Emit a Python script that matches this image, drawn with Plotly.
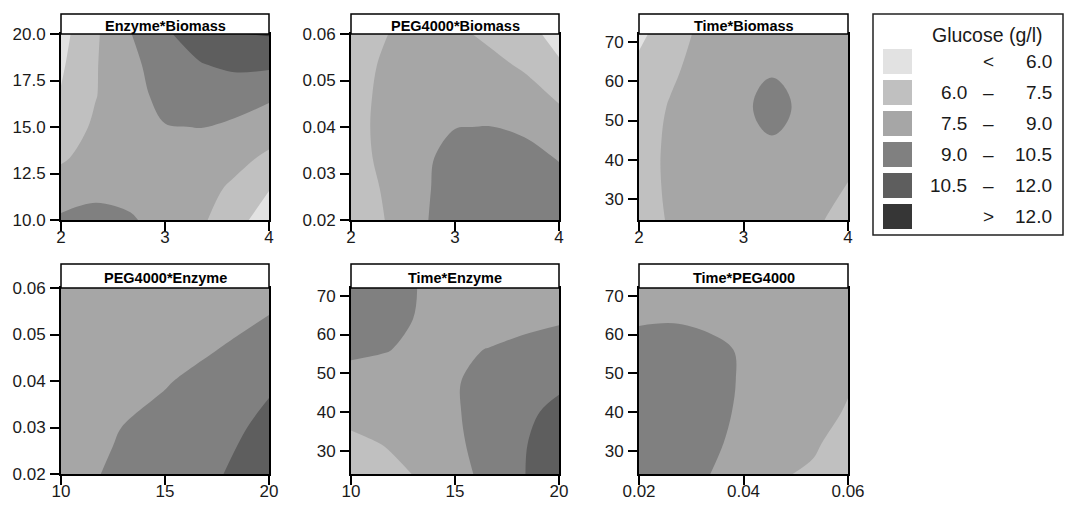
import plotly.graph_objects as go

W, H = 1065, 506

# Glucose bands (g/l)
band_edges = [6.0, 7.5, 9.0, 10.5, 12.0]
band_colors = ["#e2e2e2", "#c0c0c0", "#a6a6a6", "#808080", "#5e5e5e", "#363636"]
band_lower = ["", "6.0", "7.5", "9.0", "10.5", ""]
band_sign = ["<", "\u2013", "\u2013", "\u2013", "\u2013", ">"]
band_upper = ["6.0", "7.5", "9.0", "10.5", "12.0", "12.0"]

# Enzyme (y) vs Biomass (x)
eb_biomass = [2.0, 2.333, 2.667, 3.0, 3.333, 3.667, 4.0]
eb_enzyme = [10.0, 11.667, 13.333, 15.0, 16.667, 18.333, 20.0]
eb_glucose = [
    [9.2, 9.5, 9.2, 8.3, 7.8, 6.5, 5.3],
    [8.3, 8.6, 8.4, 8.2, 8.1, 7.2, 6.05],
    [7.3, 8.1, 8.4, 8.5, 8.7, 8.0, 7.2],
    [6.6, 7.75, 8.5, 8.95, 9.02, 8.8, 8.3],
    [6.1, 7.45, 8.5, 9.4, 9.7, 9.5, 9.2],
    [5.8, 7.4, 8.75, 9.5, 10.4, 10.8, 10.75],
    [5.5, 7.3, 8.95, 10.3, 11.2, 11.95, 12.1],
]

# PEG4000 (y) vs Biomass (x)
pb_biomass = [2.0, 2.333, 2.667, 3.0, 3.333, 3.667, 4.0]
pb_peg = [0.02, 0.02667, 0.03333, 0.04, 0.04667, 0.05333, 0.06]
pb_glucose = [
    [6.7, 7.52, 8.85, 9.5, 9.8, 9.8, 9.6],
    [7.0, 7.6, 8.8, 9.45, 9.7, 9.6, 9.35],
    [7.0, 7.8, 8.8, 9.3, 9.45, 9.3, 8.95],
    [7.0, 7.9, 8.6, 8.98, 9.02, 8.85, 8.1],
    [6.95, 7.85, 8.45, 8.6, 8.5, 8.1, 7.3],
    [6.9, 7.7, 8.3, 8.3, 7.9, 7.3, 6.1],
    [6.9, 7.45, 8.1, 7.8, 7.2, 6.3, 5.7],
]

# Time (y) vs Biomass (x)
tb_biomass = [2.0, 2.3, 2.6, 3.0, 3.27, 3.55, 3.8, 4.0]
tb_time = [24, 34, 44, 53.5, 63, 72]
tb_glucose = [
    [6.6, 7.67, 8.1, 8.2, 8.15, 7.9, 7.43, 7.0],
    [6.7, 7.83, 8.2, 8.4, 8.4, 8.2, 7.8, 7.48],
    [6.7, 7.83, 8.3, 8.6, 8.88, 8.6, 8.3, 8.0],
    [6.6, 7.63, 8.2, 8.8, 9.4, 8.81, 8.6, 8.4],
    [6.22, 7.2, 8.1, 8.6, 8.89, 8.6, 8.4, 8.3],
    [5.8, 6.5, 7.95, 8.3, 8.4, 8.35, 8.2, 8.1],
]

# PEG4000 (y) vs Enzyme (x)
pe_enzyme = [10, 12.5, 15, 17.5, 20]
pe_peg = [0.02, 0.03, 0.04, 0.05, 0.06]
pe_glucose = [
    [8.51, 9.15, 9.79, 10.42, 11.06],
    [8.28, 8.9, 9.52, 10.14, 10.76],
    [8.0, 8.4, 8.88, 9.6, 10.35],
    [7.8, 8.05, 8.35, 8.7, 9.4],
    [7.7, 7.8, 7.95, 8.2, 8.45],
]

# Time (y) vs Enzyme (x)
te_enzyme = [10, 11.667, 13.333, 15, 16.667, 18.333, 20]
te_time = [24, 32, 40, 48, 56, 64, 72]
te_glucose = [
    [6.9, 7.2, 7.6, 8.33, 9.6, 10.48, 11.1],
    [7.3, 7.55, 8.0, 8.76, 9.55, 10.45, 10.95],
    [7.8, 7.9, 8.3, 8.89, 9.5, 10.3, 10.75],
    [8.6, 8.4, 8.5, 8.91, 9.4, 10.0, 10.3],
    [9.2, 9.06, 8.7, 8.8, 9.05, 9.4, 9.6],
    [9.6, 9.3, 8.92, 8.55, 8.5, 8.6, 8.85],
    [9.8, 9.5, 8.95, 8.5, 8.2, 8.2, 8.3],
]

# Time (y) vs PEG4000 (x)
tp_peg = [0.02, 0.02667, 0.03333, 0.04, 0.04667, 0.05333, 0.06]
tp_time = [24, 32, 40, 48, 56, 64, 72]
tp_glucose = [
    [9.5, 9.6, 9.02, 8.6, 7.57, 7.4, 7.0],
    [9.6, 9.7, 9.15, 8.8, 7.9, 7.6, 7.2],
    [9.6, 9.75, 9.3, 8.85, 8.15, 7.85, 7.42],
    [9.55, 9.7, 9.35, 8.9, 8.35, 8.05, 7.6],
    [9.35, 9.5, 9.25, 8.9, 8.45, 8.2, 7.9],
    [8.9, 8.92, 8.8, 8.6, 8.4, 8.35, 8.1],
    [8.6, 8.6, 8.5, 8.4, 8.35, 8.35, 8.3],
]

panel_titles = ["Enzyme*Biomass", "PEG4000*Biomass", "Time*Biomass",
                "PEG4000*Enzyme", "Time*Enzyme", "Time*PEG4000"]

biomass_ticks = [2, 3, 4]
enzyme_ticks = [10, 12.5, 15, 17.5, 20]
enzyme_xticks = [10, 15, 20]
peg_ticks = [0.02, 0.03, 0.04, 0.05, 0.06]
peg_xticks = [0.02, 0.04, 0.06]
time_ticks = [30, 40, 50, 60, 70]


def fx(px):
    return px / W


def fy(py):
    return 1 - py / H


FONT = "Liberation Sans, Arial, sans-serif"
INK = "#1a1a1a"
TICK_SIZE = 17
LEGEND_SIZE = 19

# (x, y, z, x range, y range, x ticks, y ticks, x format, y format,
#  plot box in px [left, right, top, bottom], title strip top, smoothing)
panels = [
    (eb_biomass, eb_enzyme, eb_glucose, [2, 4], [10, 20], biomass_ticks, enzyme_ticks,
     "d", ".1f", (61, 269, 34, 220), 14, 1.0),
    (pb_biomass, pb_peg, pb_glucose, [2, 4], [0.02, 0.06], biomass_ticks, peg_ticks,
     "d", ".2f", (351, 559, 34, 220), 14, 1.0),
    (tb_biomass, tb_time, tb_glucose, [2, 4], [24.7, 72], biomass_ticks, time_ticks,
     "d", "d", (639, 848, 34, 220), 14, 1.3),
    (pe_enzyme, pe_peg, pe_glucose, [10, 20], [0.02, 0.06], enzyme_xticks, peg_ticks,
     "d", ".2f", (61, 269, 288, 474), 264, 1.0),
    (te_enzyme, te_time, te_glucose, [10, 20], [24, 72], enzyme_xticks, time_ticks,
     "d", "d", (351, 559, 288, 474), 264, 1.0),
    (tp_peg, tp_time, tp_glucose, [0.02, 0.06], [24, 72], peg_xticks, time_ticks,
     ".2f", "d", (639, 848, 288, 474), 264, 1.0),
]

colorscale = [[i / (len(band_colors) - 1), c] for i, c in enumerate(band_colors)]
step = band_edges[1] - band_edges[0]

fig = go.Figure()
shapes = []
annotations = []

axis_common = dict(
    showgrid=False, zeroline=False, showline=True, linecolor="black", linewidth=2,
    mirror=True, ticks="outside", ticklen=9, tickwidth=1.5, tickcolor="black",
    automargin=False,
    tickfont=dict(family=FONT, size=TICK_SIZE, color=INK),
)

for i, (xs, ys, zs, xr, yr, xt, yt, xf, yf, box, strip_top, smooth) in enumerate(panels, start=1):
    sx = "" if i == 1 else str(i)
    fig.add_trace(go.Contour(
        x=xs, y=ys, z=zs,
        xaxis="x" + sx, yaxis="y" + sx,
        autocontour=False,
        contours=dict(start=band_edges[0], end=band_edges[-1], size=step,
                      coloring="fill", showlines=False),
        colorscale=colorscale, showscale=False,
        line=dict(width=0, smoothing=smooth),
        hoverinfo="skip",
    ))
    left, right, top, bottom = box
    fig.layout["xaxis" + sx] = dict(
        axis_common, domain=[fx(left), fx(right)], anchor="y" + sx,
        range=xr, tickvals=xt, tickformat=xf, ticklabelstandoff=-8,
    )
    fig.layout["yaxis" + sx] = dict(
        axis_common, domain=[fy(bottom), fy(top)], anchor="x" + sx,
        range=yr, tickvals=yt, tickformat=yf, ticklabelstandoff=1,
    )
    # title strip above each panel
    shapes.append(dict(type="rect", xref="paper", yref="paper",
                       x0=fx(left), x1=fx(right), y0=fy(top), y1=fy(strip_top),
                       fillcolor="white", line=dict(color="black", width=1.5)))
    annotations.append(dict(xref="paper", yref="paper",
                            x=fx((left + right) / 2), y=fy((strip_top + top) / 2 + 2),
                            xanchor="center", yanchor="middle",
                            text="<b>%s</b>" % panel_titles[i - 1], showarrow=False,
                            font=dict(family=FONT, size=14.5, color="black")))

# legend box
shapes.append(dict(type="rect", xref="paper", yref="paper",
                   x0=fx(873), x1=fx(1063), y0=fy(235), y1=fy(14),
                   fillcolor="white", line=dict(color="#222222", width=1.5), layer="below"))
annotations.append(dict(xref="paper", yref="paper", x=fx(987), y=fy(35),
                        xanchor="center", yanchor="middle", text="Glucose (g/l)",
                        showarrow=False, font=dict(family=FONT, size=19.5, color=INK)))
row_top, row_pitch, sw_h = 49, 31, 25
for k, col in enumerate(band_colors):
    t = row_top + k * row_pitch
    cy = t + sw_h / 2
    shapes.append(dict(type="rect", xref="paper", yref="paper",
                       x0=fx(883), x1=fx(912), y0=fy(t + sw_h), y1=fy(t),
                       fillcolor=col, line=dict(width=0)))
    lbl_font = dict(family=FONT, size=LEGEND_SIZE, color=INK)
    if band_lower[k]:
        annotations.append(dict(xref="paper", yref="paper", x=fx(969), y=fy(cy),
                                xanchor="right", yanchor="middle", text=band_lower[k],
                                showarrow=False, font=lbl_font))
    annotations.append(dict(xref="paper", yref="paper", x=fx(988), y=fy(cy),
                            xanchor="center", yanchor="middle", text=band_sign[k],
                            showarrow=False, font=lbl_font))
    annotations.append(dict(xref="paper", yref="paper", x=fx(1054), y=fy(cy),
                            xanchor="right", yanchor="middle", text=band_upper[k],
                            showarrow=False, font=lbl_font))

fig.update_layout(
    width=W, height=H, margin=dict(l=0, r=0, t=0, b=0, pad=0, autoexpand=False),
    paper_bgcolor="white", plot_bgcolor="white",
    showlegend=False, shapes=shapes, annotations=annotations,
    font=dict(family=FONT, color=INK),
)

fig.write_html("out.html", post_script="document.body.style.margin='0';")
